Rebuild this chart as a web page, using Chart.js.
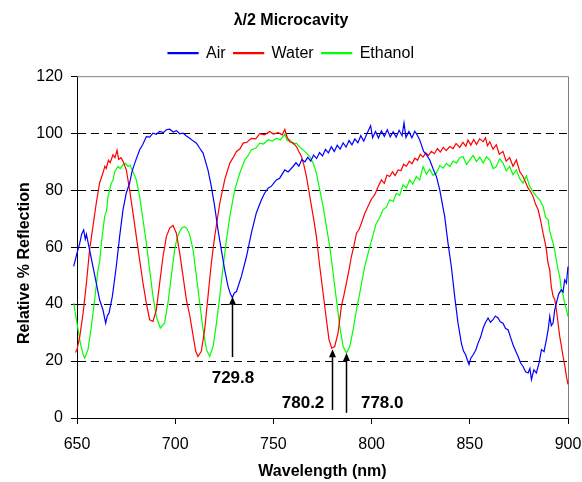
<!DOCTYPE html>
<html>
<head>
<meta charset="utf-8">
<script src="https://cdn.jsdelivr.net/npm/chart.js@4"></script>
<style>
  html, body { margin: 0; padding: 0; background: #fff; }
</style>
</head>
<body>
<canvas id="chart" width="582" height="482"></canvas>
<script>
// spectra, wavelength (nm) / relative reflection (%)
const airNm = [648.3, 650.0, 651.4, 652.4, 653.4, 654.2, 654.8, 656.4, 658.1, 659.8, 661.5, 663.2, 664.6, 665.4, 666.3, 668.0, 670.0, 671.7, 673.4, 675.1,
  676.8, 678.0, 679.4, 681.9, 683.5, 685.3, 687.0, 688.7, 690.4, 692.1, 694.0, 695.5, 697.2, 699.0, 700.6, 702.3, 704.0, 705.7, 707.4, 709.1,
  710.8, 712.5, 714.2, 716.7, 718.4, 720.1, 721.8, 723.5, 725.2, 726.9, 728.1, 729.1, 730.1, 731.2, 733.7, 736.3, 738.8, 741.3, 743.9, 745.5,
  747.3, 749.0, 751.5, 753.2, 755.8, 757.5, 760.0, 761.5, 763.0, 764.5, 766.0, 767.5, 769.0, 770.5, 772.0, 773.5, 775.0, 776.5, 778.0, 779.5,
  781.0, 782.5, 784.0, 785.5, 787.0, 788.5, 790.0, 791.5, 793.0, 794.5, 796.0, 797.5, 799.5, 800.5, 802.0, 803.5, 805.0, 806.5, 808.0, 809.5,
  811.0, 812.5, 814.0, 815.5, 816.5, 817.5, 819.0, 820.5, 822.0, 823.5, 824.5, 825.4, 826.5, 828.0, 829.6, 831.3, 833.0, 834.7, 835.8, 837.2,
  838.9, 840.6, 842.3, 844.0, 845.7, 846.8, 847.9, 848.8, 849.6, 850.5, 851.7, 853.0, 854.2, 855.5, 856.8, 858.0, 859.3, 860.5, 861.8, 863.0,
  864.4, 865.5, 866.9, 868.2, 869.5, 870.8, 872.0, 873.3, 874.6, 875.8, 877.1, 878.4, 879.7, 880.6, 881.4, 882.6, 883.9, 885.2, 886.5, 887.8,
  889.0, 889.9, 890.7, 891.5, 892.4, 893.2, 894.1, 895.3, 896.6, 897.5, 898.3, 899.2, 900.0, 900.8, 901.7, 902.6];
const airPct = [53.2, 57.9, 61.4, 64.6, 66.0, 62.8, 64.5, 59.0, 53.2, 47.4, 41.5, 38.0, 33.3, 35.8, 36.8, 42.7, 53.2, 63.7, 73.0, 79.0,
  82.5, 86.5, 89.5, 94.2, 96.0, 98.8, 98.6, 100.0, 99.6, 100.6, 100.2, 101.2, 101.4, 100.4, 100.9, 99.8, 100.0, 99.0, 98.2, 97.3,
  96.5, 94.7, 93.0, 87.0, 81.3, 74.3, 66.0, 59.0, 52.0, 46.2, 43.6, 42.3, 43.9, 44.4, 49.7, 56.7, 65.0, 72.0, 76.6, 78.9,
  80.7, 81.4, 83.6, 84.2, 87.1, 86.4, 88.3, 89.6, 88.4, 90.8, 89.9, 91.5, 90.2, 92.3, 91.1, 93.2, 92.0, 94.3, 93.1, 95.2,
  93.6, 95.8, 94.4, 96.6, 95.1, 97.4, 95.9, 98.0, 96.6, 99.1, 97.2, 99.6, 102.6, 98.4, 100.6, 98.3, 100.8, 98.9, 101.2, 98.7,
  100.5, 98.6, 101.0, 99.1, 103.6, 98.5, 100.6, 98.4, 100.7, 99.0, 97.6, 95.8, 93.6, 92.4, 90.6, 87.5, 84.8, 80.1, 76.0, 70.8,
  61.4, 53.2, 42.7, 33.3, 26.3, 23.5, 22.2, 20.3, 18.8, 21.0, 22.2, 23.8, 26.3, 28.4, 31.6, 33.5, 35.1, 33.6, 34.5, 35.8,
  35.1, 33.8, 33.3, 31.4, 31.0, 28.2, 25.7, 23.6, 21.6, 19.4, 18.1, 16.2, 15.8, 17.4, 13.5, 16.9, 15.8, 19.2, 24.0, 23.3,
  27.5, 31.0, 35.7, 32.4, 33.3, 37.8, 40.4, 43.6, 45.0, 44.2, 48.5, 47.4, 53.2, 51.8, 54.4, 55.2];

const waterNm = [648.3, 649.2, 650.0, 651.4, 653.1, 654.8, 656.4, 658.1, 659.8, 661.5, 663.2, 664.2, 664.9, 666.0, 666.9, 668.3, 669.3, 670.4, 671.2, 672.4,
  673.4, 675.1, 676.8, 678.5, 680.2, 681.9, 683.6, 685.3, 687.0, 688.7, 690.4, 692.1, 693.8, 695.5, 697.2, 698.9, 700.6, 702.3, 704.0, 705.7,
  707.4, 709.1, 710.4, 711.6, 713.3, 715.0, 716.7, 718.4, 720.1, 722.7, 725.2, 727.8, 729.5, 731.2, 733.0, 734.6, 736.5, 738.8, 741.0, 743.0,
  745.5, 748.1, 750.0, 752.4, 754.5, 755.8, 757.0, 758.3, 760.0, 761.7, 763.0, 764.3, 765.6, 766.8, 768.1, 769.4, 770.7, 771.9, 773.6, 775.3,
  777.0, 778.3, 779.7, 781.2, 782.9, 784.6, 786.0, 787.2, 788.5, 789.7, 791.0, 792.3, 793.5, 794.8, 796.5, 798.2, 799.9, 801.6, 803.3, 805.0,
  806.5, 807.8, 809.2, 810.6, 812.0, 813.5, 815.0, 816.3, 817.7, 819.2, 820.6, 822.0, 823.4, 824.8, 826.2, 827.6, 829.0, 830.4, 832.0, 833.5,
  835.0, 836.5, 838.0, 839.8, 841.5, 843.0, 844.9, 846.5, 848.0, 849.1, 850.5, 852.0, 853.4, 855.0, 856.8, 858.0, 859.0, 860.2, 861.8, 863.5,
  865.0, 866.9, 868.5, 870.3, 872.0, 873.7, 875.5, 877.1, 878.5, 879.7, 881.0, 882.2, 883.5, 884.8, 886.0, 887.3, 888.2, 889.0, 889.8, 890.7,
  891.5, 892.4, 893.2, 894.1, 895.0, 895.8, 896.6, 897.5, 898.4, 899.2, 900.0, 900.9, 901.5, 902.2];
const waterPct = [23.4, 23.0, 24.0, 28.6, 36.8, 47.4, 59.0, 67.2, 75.4, 82.5, 86.0, 88.4, 87.6, 90.5, 89.6, 92.4, 91.4, 94.0, 90.8, 91.4,
  90.2, 87.1, 80.1, 72.0, 63.7, 55.5, 47.4, 40.3, 34.5, 33.9, 38.0, 47.4, 56.7, 63.7, 66.7, 67.6, 64.9, 57.9, 49.7, 41.5,
  36.0, 29.0, 23.5, 21.6, 23.4, 31.0, 42.7, 54.4, 63.7, 75.4, 83.6, 89.5, 91.4, 93.6, 94.5, 96.5, 96.8, 98.2, 98.0, 99.8,
  99.4, 100.6, 99.7, 100.2, 99.4, 101.3, 98.6, 97.0, 96.6, 95.3, 93.5, 91.8, 88.6, 84.8, 79.6, 74.3, 69.0, 63.7, 53.2, 43.9,
  34.5, 27.5, 24.5, 25.1, 29.8, 39.2, 43.4, 47.4, 52.0, 56.7, 60.4, 64.9, 66.0, 68.4, 71.8, 74.3, 76.8, 78.4, 81.2, 83.6,
  82.4, 85.3, 84.8, 86.4, 85.1, 87.1, 86.9, 89.1, 88.4, 90.2, 89.3, 91.2, 90.5, 92.6, 91.6, 93.1, 92.2, 93.6, 92.8, 94.6,
  93.4, 95.0, 93.9, 95.3, 94.6, 96.4, 95.0, 96.8, 95.4, 97.6, 95.8, 97.8, 96.0, 98.0, 97.0, 98.4, 95.6, 97.0, 94.4, 95.9,
  92.6, 93.6, 90.2, 91.4, 88.4, 90.6, 86.4, 84.8, 82.6, 80.7, 79.4, 77.8, 75.0, 73.1, 69.6, 64.9, 62.0, 59.0, 54.5, 52.0,
  46.0, 42.7, 41.8, 38.0, 33.0, 28.6, 25.4, 21.6, 18.2, 14.6, 11.8, 8.8, 6.8, 4.1];

const ethanolNm = [648.3, 650.0, 651.7, 653.0, 653.9, 655.6, 657.3, 659.0, 660.7, 661.6, 662.4, 664.1, 665.0, 665.8, 667.5, 668.3, 669.2, 670.9, 672.0, 673.4,
  674.6, 676.0, 677.0, 678.5, 680.2, 681.9, 683.6, 685.3, 687.0, 688.7, 690.4, 692.4, 694.6, 696.3, 698.0, 699.7, 701.0, 702.3, 703.5, 704.8,
  706.0, 707.4, 709.1, 710.8, 712.5, 714.2, 715.9, 717.6, 719.3, 721.0, 722.7, 724.4, 726.1, 727.8, 730.3, 732.9, 735.4, 737.0, 738.8, 741.0,
  743.0, 745.0, 747.3, 749.5, 751.5, 753.5, 755.8, 757.0, 758.3, 760.0, 761.7, 763.5, 765.1, 767.0, 768.5, 770.2, 771.9, 773.6, 775.3, 777.0,
  778.7, 780.4, 782.1, 783.8, 785.5, 787.2, 788.9, 790.6, 792.3, 794.0, 796.5, 799.1, 800.8, 802.4, 804.0, 805.8, 807.5, 809.2, 811.0, 812.6,
  814.3, 816.0, 817.7, 819.4, 821.0, 822.8, 824.5, 826.2, 827.9, 829.6, 831.3, 833.0, 834.7, 836.4, 838.1, 839.8, 841.5, 843.2, 844.9, 846.6,
  848.3, 850.0, 851.7, 853.4, 855.1, 856.8, 858.5, 860.2, 861.9, 863.5, 865.2, 866.9, 868.6, 870.3, 872.0, 873.7, 875.4, 877.1, 878.8, 880.5,
  882.2, 883.9, 885.6, 887.3, 888.6, 889.9, 890.7, 891.5, 892.4, 893.2, 894.1, 895.0, 895.8, 896.6, 897.5, 898.3, 899.2, 900.0, 900.9, 901.7];
const ethanolPct = [40.3, 33.3, 26.3, 22.6, 21.0, 24.0, 32.1, 41.5, 52.0, 55.2, 61.4, 70.8, 72.6, 77.8, 82.5, 83.4, 86.5, 88.3, 87.6, 88.9,
  89.4, 88.3, 88.8, 86.5, 83.6, 77.8, 69.6, 61.4, 52.0, 42.7, 35.6, 31.6, 33.3, 40.3, 49.7, 59.0, 63.4, 65.5, 66.8, 67.2,
  66.4, 64.3, 59.0, 49.7, 40.3, 31.0, 24.0, 21.6, 25.1, 33.3, 42.7, 53.2, 62.5, 70.8, 80.1, 86.0, 90.6, 92.0, 94.2, 94.7,
  96.5, 96.2, 97.7, 97.2, 98.2, 97.6, 99.6, 97.4, 97.7, 96.2, 96.5, 95.0, 94.2, 92.8, 91.8, 89.5, 86.0, 80.1, 74.3, 67.2,
  60.2, 50.9, 41.5, 32.1, 25.1, 22.8, 25.1, 31.0, 38.0, 43.9, 53.2, 60.2, 64.4, 68.4, 70.2, 73.1, 74.0, 76.6, 76.0, 78.9,
  78.2, 81.9, 80.8, 83.6, 82.1, 84.8, 83.6, 88.3, 85.6, 87.4, 85.2, 86.0, 88.6, 87.7, 89.4, 88.3, 90.2, 89.5, 91.4, 91.8,
  89.0, 90.6, 92.2, 90.0, 91.6, 89.5, 91.7, 90.6, 87.6, 88.3, 91.0, 89.5, 86.8, 88.3, 85.4, 87.1, 84.0, 82.5, 85.0, 81.3,
  79.4, 77.8, 76.6, 74.3, 70.4, 69.6, 65.6, 63.7, 61.4, 59.0, 55.2, 52.0, 49.6, 45.0, 43.2, 40.3, 38.2, 35.6, 31.4, 27.5];

// arrow annotations: wavelength, tip / tail of arrow (%), label text and where it sits
const arrowNm = [729.0, 779.8, 787.2];
const arrowTip = [42.6, 24.1, 22.8];
const arrowTail = [21.4, 2.8, 1.8];
const arrowText = ["729.8", "780.2", "778.0"];
const arrowTextNm = [729.4, 765.1, 805.4];
const arrowTextPct = [14.1, 5.2, 5.2];

const yTitle = "Relative % Reflection";
const fontFamily = "'Liberation Sans', Arial, sans-serif";

function toPoints(xs, ys) {
    return xs.map((x, i) => ({ x: x, y: ys[i] }));
}

function lineSet(label, xs, ys, color) {
    return {
        label: label,
        data: toPoints(xs, ys),
        borderColor: color,
        backgroundColor: color,
        borderWidth: 1.2,
        pointRadius: 0,
        tension: 0,
        clip: false
    };
}

// a bit of room under the legend
const legendGap = {
    id: "legendGap",
    beforeInit(chart) {
        let fit = chart.legend.fit;
        chart.legend.fit = function () {
            fit.bind(chart.legend)();
            this.height += 5;
        };
    }
};

// gray frame on top and right of the plot area, plus the y title (sits a bit low, like the original)
const framePlugin = {
    id: "frame",
    beforeDatasetsDraw(chart) {
        let a = chart.chartArea;
        let ctx = chart.ctx;
        ctx.save();
        ctx.strokeStyle = "#808080";
        ctx.lineWidth = 1;
        ctx.beginPath();
        ctx.moveTo(a.left, a.top + 0.5);
        ctx.lineTo(a.right + 0.5, a.top + 0.5);
        ctx.lineTo(a.right + 0.5, a.bottom);
        ctx.stroke();

        ctx.translate(25, (a.top + a.bottom) / 2 + 16);
        ctx.rotate(-Math.PI / 2);
        ctx.font = "bold 16px " + fontFamily;
        ctx.fillStyle = "#000";
        ctx.textAlign = "center";
        ctx.textBaseline = "middle";
        ctx.fillText(yTitle, 0, 0);
        ctx.restore();
    }
};

// the three arrows with their bold labels
const arrowPlugin = {
    id: "arrows",
    afterDatasetsDraw(chart) {
        let ctx = chart.ctx;
        let xs = chart.scales.x;
        let ys = chart.scales.y;
        ctx.save();
        ctx.strokeStyle = "#000";
        ctx.fillStyle = "#000";
        ctx.lineWidth = 1.5;
        for (let i = 0; i < arrowNm.length; i++) {
            let px = Math.round(xs.getPixelForValue(arrowNm[i])) + 0.5;
            let tip = ys.getPixelForValue(arrowTip[i]);
            let tail = ys.getPixelForValue(arrowTail[i]);
            ctx.beginPath();
            ctx.moveTo(px, tail);
            ctx.lineTo(px, tip + 6);
            ctx.stroke();
            ctx.beginPath();
            ctx.moveTo(px, tip);
            ctx.lineTo(px - 3.5, tip + 8);
            ctx.lineTo(px + 3.5, tip + 8);
            ctx.closePath();
            ctx.fill();
        }
        ctx.font = "bold 17px " + fontFamily;
        ctx.textAlign = "center";
        ctx.textBaseline = "middle";
        for (let i = 0; i < arrowText.length; i++) {
            ctx.fillText(arrowText[i], xs.getPixelForValue(arrowTextNm[i]), ys.getPixelForValue(arrowTextPct[i]));
        }
        ctx.restore();
    }
};

let ctx = document.getElementById("chart").getContext("2d");
let chartInstance = new Chart(ctx, {
    type: "line",
    data: {
        datasets: [
            lineSet("Air", airNm, airPct, "#0000ff"),
            lineSet("Water", waterNm, waterPct, "#ff0000"),
            lineSet("Ethanol", ethanolNm, ethanolPct, "#00ff00")
        ]
    },
    options: {
        responsive: false,
        animation: false,
        devicePixelRatio: 1,
        layout: { padding: 0 },
        plugins: {
            title: {
                display: true,
                text: "λ/2 Microcavity",
                color: "#000",
                font: { family: fontFamily, size: 16, weight: "bold" },
                padding: { top: 11, bottom: 7 }
            },
            legend: {
                labels: {
                    boxWidth: 30,
                    boxHeight: 1,
                    padding: 8,
                    color: "#000",
                    font: { family: fontFamily, size: 16 }
                }
            },
            tooltip: { enabled: false }
        },
        scales: {
            x: {
                type: "linear",
                min: 650,
                max: 900,
                ticks: { stepSize: 50, padding: 11, color: "#000", font: { family: fontFamily, size: 16 } },
                grid: { drawOnChartArea: false, tickLength: 6, tickColor: "#000" },
                border: { color: "#000", width: 1 },
                title: {
                    display: true,
                    text: "Wavelength (nm)",
                    color: "#000",
                    font: { family: fontFamily, size: 16, weight: "bold" },
                    padding: { top: 0, bottom: 1 }
                },
                afterFit: function (scale) {
                    scale.height = 64;
                    scale.paddingRight = 14;
                }
            },
            y: {
                min: 0,
                max: 120,
                ticks: { stepSize: 20, padding: 8, color: "#000", font: { family: fontFamily, size: 16 } },
                grid: {
                    color: c => (c.tick.value === 0 || c.tick.value === 120) ? "rgba(0,0,0,0)" : "#000",
                    tickLength: 6,
                    tickColor: "#000"
                },
                border: { color: "#000", width: 1, dash: [8, 5] },
                afterFit: function (scale) { scale.width = 77; }
            }
        }
    },
    plugins: [legendGap, framePlugin, arrowPlugin]
});
</script>
</body>
</html>
